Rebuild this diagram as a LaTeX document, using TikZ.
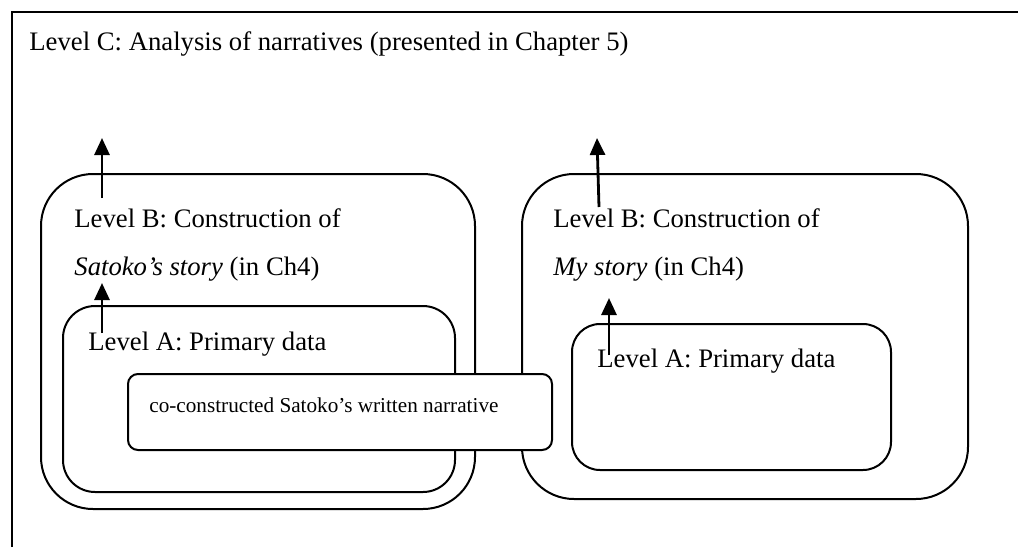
\documentclass[tikz,border=0pt]{standalone}
\usepackage{fontspec}
\setmainfont{Liberation Serif}
\usetikzlibrary{arrows.meta}
\begin{document}
\begin{tikzpicture}[x=0.5pt,y=-0.5pt,
  frameline/.style={line width=1pt},
  box/.style={draw, line width=1pt, inner sep=0pt, fill=white},
  lbl/.style={anchor=base west, inner sep=0pt, font=\fontsize{13.35pt}{16pt}\selectfont},
  smalllbl/.style={anchor=base west, inner sep=0pt, font=\fontsize{10.6pt}{13pt}\selectfont},
  uparrow/.style={line width=1.4pt, -{Triangle[length=8.5pt,width=7.5pt]}}
]
\useasboundingbox (0,0) rectangle (1018,547);
% outer frame (top and left edges visible)
\coordinate (fbl) at (12,547);
\coordinate (ftl) at (12,12);
\coordinate (ftr) at (1018,12);
\draw[frameline] (fbl) -- (ftl) -- (ftr);
\node[lbl] (levC) at (29,50) {Level C: Analysis of narratives (presented in Chapter 5)};

% left Level B and Level A boxes
\node[box, rounded corners=26pt, minimum width=217pt, minimum height=167.5pt] (bL) at (258,341.5) {};
\node[box, rounded corners=16pt, minimum width=196pt, minimum height=93pt] (aL) at (259,399) {};
% right Level B and Level A boxes
\node[box, rounded corners=26pt, minimum width=223pt, minimum height=162.5pt] (bR) at (745,336.5) {};
\node[box, rounded corners=14pt, minimum width=159.5pt, minimum height=73pt] (aR) at (731.5,397) {};
% narrative box (on top)
\node[box, rounded corners=5pt, minimum width=212pt, minimum height=38pt] (narr) at (340,412) {};

% texts
\node[lbl] (bLt1) at (74,227) {Level B: Construction of};
\node[lbl] (bLt2) at (74,275) {\textit{Satoko’s story} (in Ch4)};
\node[lbl] (aLt) at (88,350) {Level A: Primary data};
\node[lbl] (bRt1) at (553,227) {Level B: Construction of};
\node[lbl] (bRt2) at (553,275) {\textit{My story} (in Ch4)};
\node[lbl] (aRt) at (597,367) {Level A: Primary data};
\node[smalllbl] (narrt) at (149,412) {co-constructed Satoko’s written narrative};

% arrows
\coordinate (la1s) at (102,198);
\coordinate (la1e) at (102,138);
\coordinate (la2s) at (102,333);
\coordinate (la2e) at (102,283);
\coordinate (ra1s) at (599,207);
\coordinate (ra1e) at (597,138);
\coordinate (ra2s) at (609,355);
\coordinate (ra2e) at (609,298);
\draw[uparrow] (la1s) -- (la1e);
\draw[uparrow] (la2s) -- (la2e);
\draw[uparrow] (ra1s) -- (ra1e);
\draw[uparrow] (ra2s) -- (ra2e);
\end{tikzpicture}
\end{document}
